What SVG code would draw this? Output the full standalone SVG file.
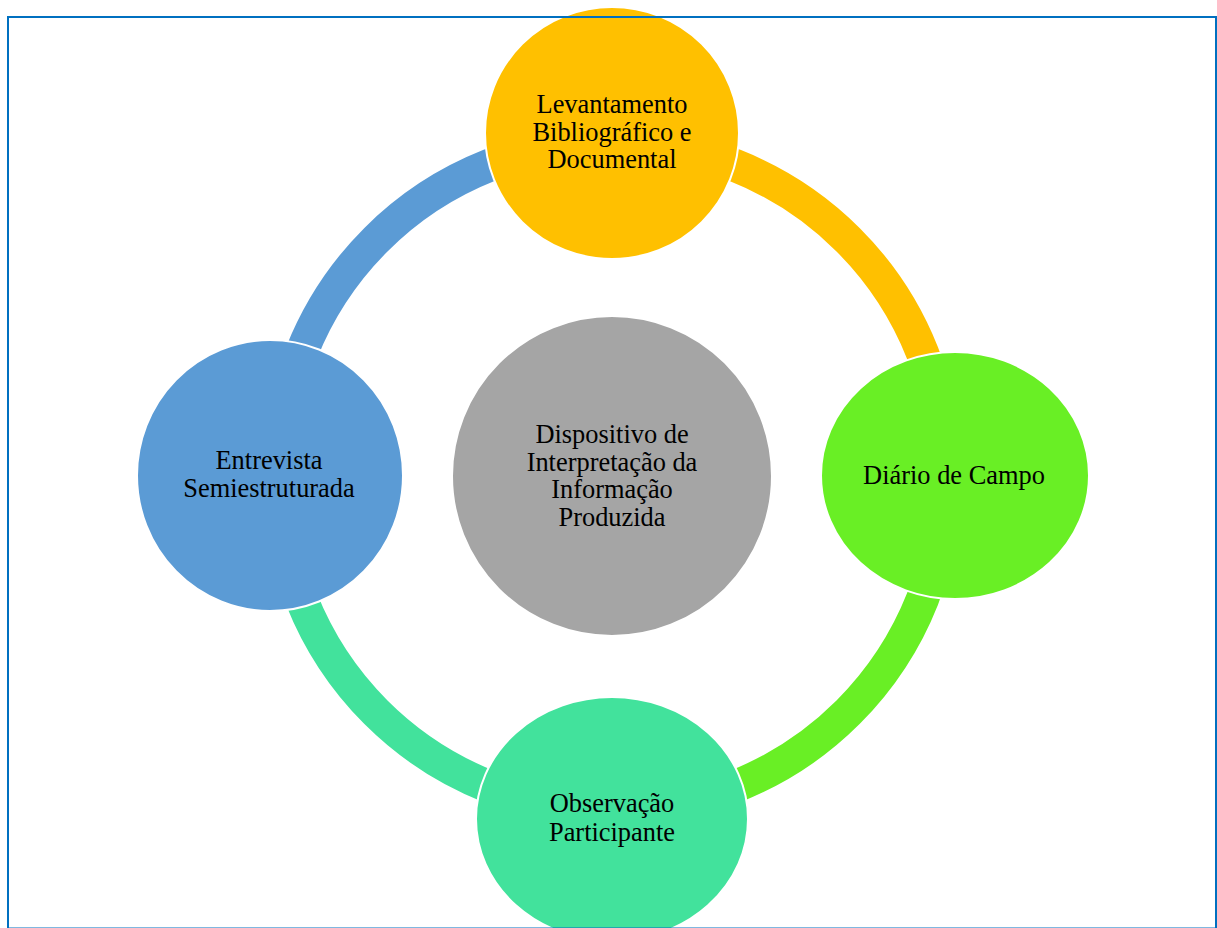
<svg xmlns="http://www.w3.org/2000/svg" width="1217" height="928" viewBox="0 0 1217 928">
<style>
.arc{fill:none;stroke-width:33}
.node{stroke:#ffffff;stroke-width:2}
.lbl{font-family:"Liberation Serif","Times New Roman",serif;font-size:26.4px;fill:#000000;text-anchor:middle}
</style>
<rect x="0" y="0" width="1217" height="928" fill="#ffffff"/>
<g id="connectors">
<path class="arc" stroke="#FFC000" d="M 612 142 A 334 334 0 0 1 946 476"/>
<path class="arc" stroke="#69EF25" d="M 946 476 A 334 334 0 0 1 612 810"/>
<path class="arc" stroke="#42E29C" d="M 612 810 A 334 334 0 0 1 278 476"/>
<path class="arc" stroke="#5B9BD5" d="M 278 476 A 334 334 0 0 1 612 142"/>
</g>
<g id="center">
<circle cx="612" cy="476" r="160" fill="#A5A5A5" class="node"/>
<text class="lbl" x="612" y="443">Dispositivo de</text>
<text class="lbl" x="612" y="470.5">Interpretação da</text>
<text class="lbl" x="612" y="498">Informação</text>
<text class="lbl" x="612" y="525.5">Produzida</text>
</g>
<g id="top">
<ellipse cx="612" cy="133" rx="127" ry="126" fill="#FFC000" class="node"/>
<text class="lbl" x="612" y="113">Levantamento</text>
<text class="lbl" x="612" y="140.5">Bibliográfico e</text>
<text class="lbl" x="612" y="168">Documental</text>
</g>
<g id="right">
<ellipse cx="955" cy="475.5" rx="134" ry="123.5" fill="#69EF25" class="node"/>
<text class="lbl" x="954" y="484">Diário de Campo</text>
</g>
<g id="bottom">
<ellipse cx="612" cy="819" rx="136" ry="122" fill="#42E29C" class="node"/>
<text class="lbl" x="612" y="812">Observação</text>
<text class="lbl" x="612" y="840.5">Participante</text>
</g>
<g id="left">
<ellipse cx="270" cy="475.5" rx="133" ry="135.5" fill="#5B9BD5" class="node"/>
<text class="lbl" x="269" y="469">Entrevista</text>
<text class="lbl" x="269" y="497">Semiestruturada</text>
</g>
<rect x="8" y="17" width="1208" height="911.5" fill="none" stroke="#0070C0" stroke-width="2"/>
</svg>
